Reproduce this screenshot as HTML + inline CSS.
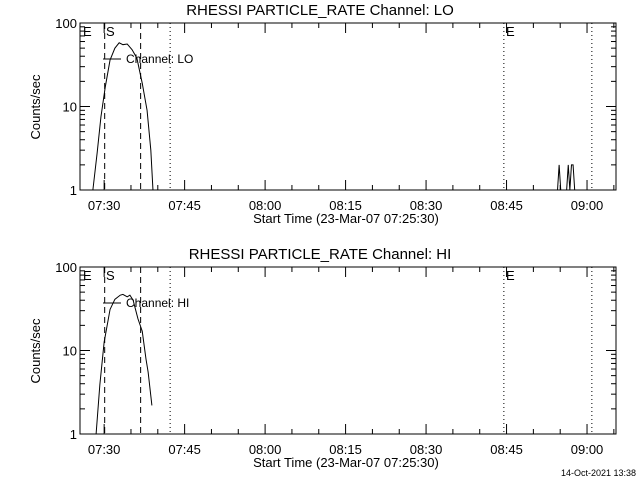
<!DOCTYPE html>
<html><head><meta charset="utf-8"><style>
body{margin:0;background:#fff}
svg{display:block;font-family:"Liberation Sans",sans-serif}
</style></head><body>
<svg id="c" width="640" height="480" xmlns="http://www.w3.org/2000/svg"></svg>
<script>
// minutes after 07:25:30
const loTimes=[2.4,3.2,3.9,4.7,5.6,6.5,7.3,8.0,8.8,9.7,10.6,11.6,12.5,13.2,13.6];
const loValues=[1,2.8,7.5,17,36,50,58,55,56,48,38,19,9,3.0,1];
const loSpikeTimes=[89.0,89.3,89.6,89.9,90.7,91.0,91.3,91.6,91.9,92.2];
const loSpikeValues=[0.5,2,0.5,0.5,0.5,2,0.5,2,2,0.5];
const hiTimes=[3.0,3.7,4.5,5.6,6.5,7.5,8.0,8.8,9.3,9.9,10.8,11.6,12.3,12.7,13.4];
const hiValues=[1,3.9,12.6,31,41,46,47,44,46,40,24,17,7.9,5.5,2.2];
const tickLabels=["07:30","07:45","08:00","08:15","08:30","08:45","09:00"];
const tickMinutes=[4.5,19.5,34.5,49.5,64.5,79.5,94.5];
const yTicks=[1,10,100];
const dashedLines=[4.6,11.3];
const dottedLines=[16.8,79.0,95.4];
const T0=0,T1=99.9;
const NS="http://www.w3.org/2000/svg";
const svg=document.getElementById('c');
function el(tag,attrs,parent){const e=document.createElementNS(NS,tag);for(const k in attrs)e.setAttribute(k,attrs[k]);(parent||svg).appendChild(e);return e;}
function panel(top,name,times,values,sTimes,sValues){
  const L=80,R=616,B=top+167;
  const g=el('g',{});
  
  
  const x=t=>L+(t-T0)/(T1-T0)*(R-L);
  const y=v=>B-Math.log10(Math.max(v,1))*83.5;
  const t=el('text',{x:320,y:top-8,'text-anchor':'middle','font-size':15,fill:'#000'},g);
  t.textContent='RHESSI PARTICLE_RATE Channel: '+name;
  
  
  const box=el('rect',{x:L,y:top,width:R-L,height:167,fill:'none',stroke:'#000','stroke-width':1},g);
  
  
  // y ticks
  for(let d=0;d<2;d++)for(let m=1;m<10;m++){const yy=y(m*Math.pow(10,d));const len=m==1?10:5;
    el('line',{x1:L,x2:L+len,y1:yy,y2:yy,stroke:'#000'},g);el('line',{x1:R,x2:R-len,y1:yy,y2:yy,stroke:'#000'},g);}
  yTicks.forEach(v=>{const tt=el('text',{x:L-3,y:y(v)+5,'text-anchor':'end','font-size':13},g);tt.textContent=v;
    
    });
  const yl=el('text',{x:40,y:top+84,'text-anchor':'middle','font-size':13,transform:`rotate(-90 40 ${top+84})`},g);
  yl.textContent='Counts/sec';
  
  
  // x ticks
  for(let m=-0.5;m<=T1;m+=5){const xx=x(m);if(xx<L)continue;const major=tickMinutes.some(v=>Math.abs(v-m)<0.01);const len=major?10:5;
    el('line',{x1:xx,x2:xx,y1:B,y2:B-len,stroke:'#000'},g);el('line',{x1:xx,x2:xx,y1:top,y2:top+len,stroke:'#000'},g);}
  tickLabels.forEach((s,i)=>{const tt=el('text',{x:x(tickMinutes[i]),y:B+20,'text-anchor':'middle','font-size':13},g);tt.textContent=s;
    
    });
  const xl=el('text',{x:346,y:B+33,'text-anchor':'middle','font-size':13},g);
  xl.textContent='Start Time (23-Mar-07 07:25:30)';
  
  
  dashedLines.forEach(m=>{const l=el('line',{x1:x(m),x2:x(m),y1:top,y2:B,stroke:'#000','stroke-dasharray':'6,4'},g);
    
    });
  dottedLines.forEach(m=>{const l=el('line',{x1:x(m),x2:x(m),y1:top,y2:B,stroke:'#000','stroke-dasharray':'1,3'},g);
    
    });
  [['E',83],['S',106],['E',506]].forEach(([s,xx])=>{const tt=el('text',{x:xx,y:top+13,'font-size':13},g);tt.textContent=s;
    
    });
  const pts=times.map((tm,i)=>x(tm)+','+y(values[i])).join(' ');
  const pl=el('polyline',{points:pts,fill:'none',stroke:'#000','stroke-width':1},g);
  
  
  if(sTimes){const p2=sTimes.map((tm,i)=>x(tm)+','+y(sValues[i])).join(' ');
    const s=el('polyline',{points:p2,fill:'none',stroke:'#000'},g);
    
    }
  el('line',{x1:103,x2:121,y1:top+36,y2:top+36,stroke:'#000'},g);
  const lg=el('text',{x:126,y:top+40,'font-size':12},g);
  lg.textContent='Channel: '+name;
  
  
}
panel(23,'LO',loTimes,loValues,loSpikeTimes,loSpikeValues);
panel(267,'HI',hiTimes,hiValues,null,null);
const ts=el('text',{x:636,y:476,'text-anchor':'end','font-size':9});
ts.textContent='14-Oct-2021 13:38';


</script>
</body></html>
